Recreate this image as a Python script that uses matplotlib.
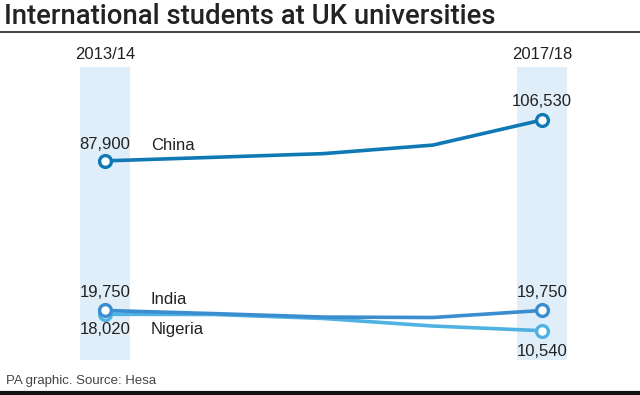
import matplotlib.pyplot as plt

years = ["2013/14", "2014/15", "2015/16", "2016/17", "2017/18"]
china = [87900, 89540, 91215, 95090, 106530]
india = [19750, 18320, 16745, 16550, 19750]
nigeria = [18020, 17920, 16100, 12665, 10540]

c_china = "#0f79b5"
c_india = "#3a8dcf"
c_nigeria = "#4fb2e2"
band = "#e0eef9"
txt = "#222222"

plt.rcParams["font.family"] = ["Liberation Sans", "DejaVu Sans"]

fig = plt.figure(figsize=(6.4, 3.95), dpi=100)
ax = fig.add_axes([0, 0, 1, 1])
x = list(range(len(years)))
ax.set_xlim(-0.961, 4.897)
ax.set_ylim(-18760, 161202)
ax.axis("off")

# highlighted first / last year
for xi in (x[0], x[-1]):
    ax.axvspan(xi - 0.23, xi + 0.23, ymin=0.089, ymax=0.830, color=band, lw=0, zorder=0)
    ax.text(xi, 0.862, years[xi], transform=ax.get_xaxis_transform(),
            ha="center", va="center", fontsize=12, color=txt)

for vals, col, name, dy in [(nigeria, c_nigeria, "Nigeria", -11),
                            (india, c_india, "India", 8),
                            (china, c_china, "China", 11)]:
    ax.plot(x, vals, color=col, lw=2.6, solid_capstyle="round", zorder=2)
    ax.plot([x[0], x[-1]], [vals[0], vals[-1]], "o", ms=8.5, mfc="white",
            mec=col, mew=2.4, zorder=3)
    ax.annotate(name, (x[0], vals[0]), xytext=(33, dy), textcoords="offset points",
                ha="left", va="center", fontsize=12, color=txt)

# value labels
ax.annotate(f"{china[0]:,}", (x[0], china[0]), xytext=(0, 12), textcoords="offset points",
            ha="center", va="center", fontsize=12, color=txt)
ax.annotate(f"{china[-1]:,}", (x[-1], china[-1]), xytext=(0, 13), textcoords="offset points",
            ha="center", va="center", fontsize=12, color=txt)
ax.annotate(f"{india[0]:,}", (x[0], india[0]), xytext=(0, 13), textcoords="offset points",
            ha="center", va="center", fontsize=12, color=txt)
ax.annotate(f"{nigeria[0]:,}", (x[0], nigeria[0]), xytext=(0, -11), textcoords="offset points",
            ha="center", va="center", fontsize=12, color=txt)
ax.annotate(f"{india[-1]:,}", (x[-1], india[-1]), xytext=(0, 13), textcoords="offset points",
            ha="center", va="center", fontsize=12, color=txt)
ax.annotate(f"{nigeria[-1]:,}", (x[-1], nigeria[-1]), xytext=(0, -15), textcoords="offset points",
            ha="center", va="center", fontsize=12, color=txt)

fig.text(4 / 640, 1 - 16 / 395, "International students at UK universities",
         ha="left", va="center", fontsize=19.8, color=txt, family="Roboto", weight="medium")
fig.add_artist(plt.Line2D([0, 1], [1 - 32 / 395, 1 - 32 / 395], color="#333333", lw=1.3))
fig.text(6 / 640, 1 - 381 / 395, "PA graphic. Source: Hesa",
         ha="left", va="center", fontsize=9.5, color="#444444")
fig.add_artist(plt.Line2D([0, 1], [1 - 393 / 395, 1 - 393 / 395], color="#111111", lw=3))

fig.savefig("out.png", dpi=100)
